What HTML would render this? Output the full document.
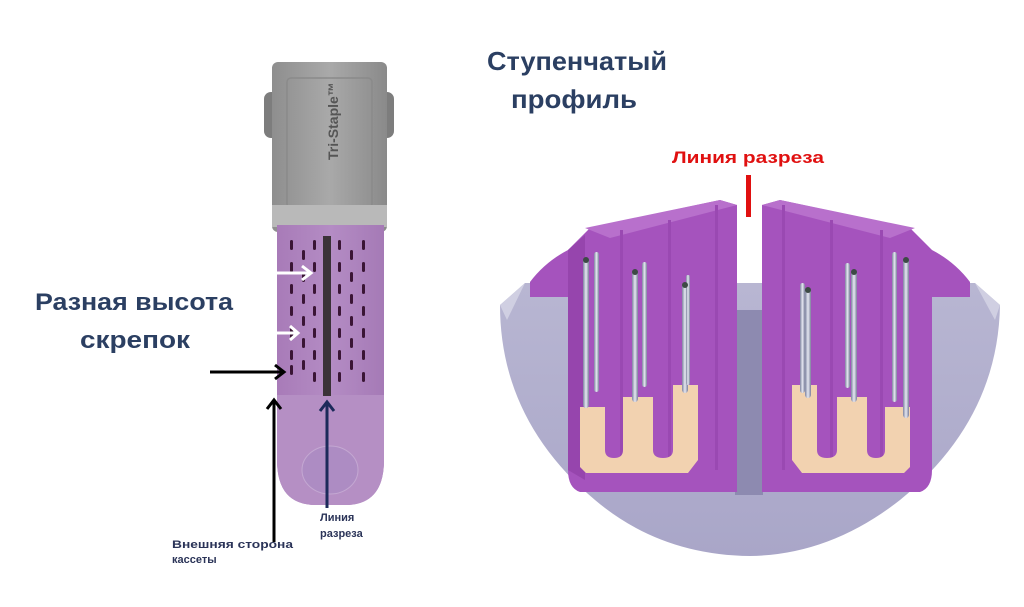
<!DOCTYPE html>
<html><head><meta charset="utf-8"><style>
html,body{margin:0;padding:0;background:#fff;}
svg{display:block;}
text{font-family:"Liberation Sans",sans-serif;font-weight:bold;}
</style></head><body>
<svg width="1024" height="607" viewBox="0 0 1024 607" xmlns="http://www.w3.org/2000/svg">
<defs>
<linearGradient id="cap" x1="0" x2="1"><stop offset="0" stop-color="#8e8e8e"/><stop offset="0.5" stop-color="#a9a9a9"/><stop offset="1" stop-color="#8a8a8a"/></linearGradient>
<linearGradient id="pb" x1="0" x2="1"><stop offset="0" stop-color="#a87bb8"/><stop offset="0.5" stop-color="#b48cc4"/><stop offset="1" stop-color="#a57ab6"/></linearGradient>
<linearGradient id="bowl" x1="0" x2="0" y1="0" y2="1"><stop offset="0" stop-color="#b8b6d2"/><stop offset="1" stop-color="#a9a6c8"/></linearGradient>
<linearGradient id="pin" x1="0" x2="1"><stop offset="0" stop-color="#7f84a0"/><stop offset="0.5" stop-color="#e6e8f2"/><stop offset="1" stop-color="#7b7f9a"/></linearGradient>
</defs>
<rect width="1024" height="607" fill="#fff"/>

<rect x="264" y="92" width="16" height="46" rx="7" fill="#7d7d7d"/>
<rect x="378" y="92" width="16" height="46" rx="7" fill="#7d7d7d"/>
<rect x="272" y="62" width="115" height="170" rx="6" fill="url(#cap)"/>
<rect x="287" y="78" width="85" height="130" rx="4" fill="none" stroke="#8a8a8a" stroke-width="1.5"/>
<rect x="272" y="205" width="115" height="22" fill="#b9b9b9"/>
<text transform="translate(338,160) rotate(-90)" font-size="14" fill="#555">Tri-Staple™</text>
<path d="M277 225 H384 V460 Q384 505 345 505 H316 Q277 505 277 460 Z" fill="url(#pb)"/>
<path d="M277 395 H384 V460 Q384 505 345 505 H316 Q277 505 277 460 Z" fill="#b58fc4"/>
<ellipse cx="330" cy="470" rx="28" ry="24" fill="#ad8cc3" stroke="#c4a8d2"/>
<rect x="323" y="236" width="8" height="160" fill="#3b3238"/>
<g fill="#3a1535">
<rect x="290" y="240" width="3" height="10" rx="1.5"/><rect x="290" y="262" width="3" height="10" rx="1.5"/><rect x="290" y="284" width="3" height="10" rx="1.5"/><rect x="290" y="306" width="3" height="10" rx="1.5"/><rect x="290" y="328" width="3" height="10" rx="1.5"/><rect x="290" y="350" width="3" height="10" rx="1.5"/><rect x="290" y="365" width="3" height="10" rx="1.5"/>
<rect x="302" y="250" width="3" height="10" rx="1.5"/><rect x="302" y="272" width="3" height="10" rx="1.5"/><rect x="302" y="294" width="3" height="10" rx="1.5"/><rect x="302" y="316" width="3" height="10" rx="1.5"/><rect x="302" y="338" width="3" height="10" rx="1.5"/><rect x="302" y="360" width="3" height="10" rx="1.5"/>
<rect x="313" y="240" width="3" height="10" rx="1.5"/><rect x="313" y="262" width="3" height="10" rx="1.5"/><rect x="313" y="284" width="3" height="10" rx="1.5"/><rect x="313" y="306" width="3" height="10" rx="1.5"/><rect x="313" y="328" width="3" height="10" rx="1.5"/><rect x="313" y="350" width="3" height="10" rx="1.5"/><rect x="313" y="372" width="3" height="10" rx="1.5"/>
<rect x="338" y="240" width="3" height="10" rx="1.5"/><rect x="338" y="262" width="3" height="10" rx="1.5"/><rect x="338" y="284" width="3" height="10" rx="1.5"/><rect x="338" y="306" width="3" height="10" rx="1.5"/><rect x="338" y="328" width="3" height="10" rx="1.5"/><rect x="338" y="350" width="3" height="10" rx="1.5"/><rect x="338" y="372" width="3" height="10" rx="1.5"/>
<rect x="350" y="250" width="3" height="10" rx="1.5"/><rect x="350" y="272" width="3" height="10" rx="1.5"/><rect x="350" y="294" width="3" height="10" rx="1.5"/><rect x="350" y="316" width="3" height="10" rx="1.5"/><rect x="350" y="338" width="3" height="10" rx="1.5"/><rect x="350" y="360" width="3" height="10" rx="1.5"/>
<rect x="362" y="240" width="3" height="10" rx="1.5"/><rect x="362" y="262" width="3" height="10" rx="1.5"/><rect x="362" y="284" width="3" height="10" rx="1.5"/><rect x="362" y="306" width="3" height="10" rx="1.5"/><rect x="362" y="328" width="3" height="10" rx="1.5"/><rect x="362" y="350" width="3" height="10" rx="1.5"/><rect x="362" y="372" width="3" height="10" rx="1.5"/>
</g>
<g stroke="#fff" stroke-width="3" fill="none">
<path d="M277 273 H311 M302 266 L311 273 L302 280"/>
<path d="M277 333 H298 M290 326 L298 333 L290 340"/>
</g>
<g stroke="#000" stroke-width="3" fill="none">
<path d="M210 372 H284 M275 365 L284 372 L275 379"/>
<path d="M274 542 V400 M267 409 L274 400 L281 409"/>
</g>
<g stroke="#1c2a5a" stroke-width="3" fill="none">
<path d="M327 508 V402 M320 411 L327 402 L334 411"/>
</g>

<text x="35" y="310" font-size="24" fill="#2b3f62" textLength="198" lengthAdjust="spacingAndGlyphs">Разная высота</text>
<text x="80" y="348" font-size="24" fill="#2b3f62" textLength="110" lengthAdjust="spacingAndGlyphs">скрепок</text>
<text x="172" y="548" font-size="11" fill="#2b3458" textLength="121" lengthAdjust="spacingAndGlyphs">Внешняя сторона</text>
<text x="172" y="563" font-size="11" fill="#2b3458">кассеты</text>
<text x="320" y="521" font-size="11" fill="#2b3458">Линия</text>
<text x="320" y="537" font-size="11" fill="#2b3458">разреза</text>

<text x="487" y="70" font-size="26" fill="#2b3f62" textLength="180" lengthAdjust="spacingAndGlyphs">Ступенчатый</text>
<text x="511" y="108" font-size="26" fill="#2b3f62" textLength="126" lengthAdjust="spacingAndGlyphs">профиль</text>
<text x="672" y="163" font-size="17" fill="#e01010" textLength="152" lengthAdjust="spacingAndGlyphs">Линия разреза</text>
<rect x="746" y="175" width="5" height="42" fill="#e01010"/>

<path d="M500 305 L525 283 H975 L1000 305 Q998 420 900 500 Q830 555 750 556 Q660 555 595 500 Q500 420 500 305 Z" fill="url(#bowl)"/>
<path d="M525 283 L500 305 L507 320 Z" fill="#d0cfe2"/>
<path d="M975 283 L1000 305 L995 320 Z" fill="#d0cfe2"/>
<rect x="735" y="310" width="28" height="185" fill="#8d8ab0"/>
<path d="M530 282 Q545 262 568 250 L590 228 L720 200 L737 205 L737 492 L580 492 Q568 488 568 470 V297 H530 Z" fill="#a553bd"/>
<path d="M585 228 L720 200 L737 205 L610 238 Z" fill="#b870cc"/>
<path d="M568 250 L585 235 V480 L568 470 Z" fill="#9645ad"/>
<rect x="620" y="230" width="3" height="240" fill="#9a49b2"/>
<rect x="668" y="220" width="3" height="250" fill="#9a49b2"/>
<rect x="715" y="205" width="3" height="265" fill="#9a49b2"/>
<path d="M970 282 Q955 262 932 250 L910 228 L780 200 L762 205 L762 492 L920 492 Q932 488 932 470 V297 H970 Z" fill="#a553bd"/>
<path d="M915 228 L780 200 L762 205 L890 238 Z" fill="#b870cc"/>
<rect x="782" y="205" width="3" height="265" fill="#9a49b2"/>
<rect x="830" y="220" width="3" height="250" fill="#9a49b2"/>
<rect x="880" y="230" width="3" height="240" fill="#9a49b2"/>
<path d="M580 407 H605 V450 Q605 458 614 458 Q623 458 623 450 V397 H653 V450 Q653 458 663 458 Q673 458 673 450 V385 H698 V460 L688 473 H586 L580 467 Z" fill="#f2d2b0"/>
<path d="M910 407 H885 V450 Q885 458 876 458 Q867 458 867 450 V397 H837 V450 Q837 458 827 458 Q817 458 817 450 V385 H792 V460 L802 473 H904 L910 467 Z" fill="#f2d2b0"/>
<g>
<rect x="583" y="258" width="6" height="150" rx="3" fill="url(#pin)"/>
<rect x="594" y="252" width="5" height="140" rx="2.5" fill="url(#pin)"/>
<rect x="632" y="270" width="6" height="132" rx="3" fill="url(#pin)"/>
<rect x="642" y="262" width="5" height="125" rx="2.5" fill="url(#pin)"/>
<rect x="682" y="283" width="6" height="110" rx="3" fill="url(#pin)"/>
<rect x="686" y="275" width="4" height="110" rx="2" fill="url(#pin)"/>
<rect x="800" y="283" width="5" height="110" rx="2.5" fill="url(#pin)"/>
<rect x="805" y="288" width="6" height="110" rx="3" fill="url(#pin)"/>
<rect x="845" y="263" width="5" height="125" rx="2.5" fill="url(#pin)"/>
<rect x="851" y="270" width="6" height="132" rx="3" fill="url(#pin)"/>
<rect x="892" y="252" width="5" height="150" rx="2.5" fill="url(#pin)"/>
<rect x="903" y="258" width="6" height="160" rx="3" fill="url(#pin)"/>
</g>
<g fill="#3d4a45">
<circle cx="586" cy="260" r="3"/><circle cx="635" cy="272" r="3"/><circle cx="685" cy="285" r="3"/>
<circle cx="808" cy="290" r="3"/><circle cx="854" cy="272" r="3"/><circle cx="906" cy="260" r="3"/>
</g>
</svg>
</body></html>
